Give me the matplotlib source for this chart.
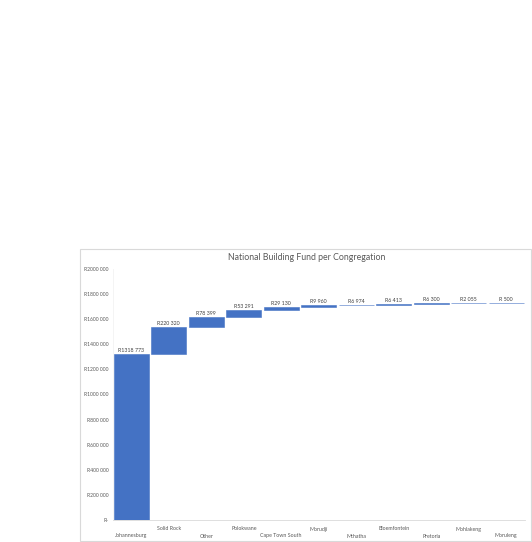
import matplotlib
matplotlib.use("Agg")
import matplotlib.pyplot as plt
from matplotlib.patches import Rectangle

plt.rcParams['font.family'] = ['Lato', 'DejaVu Sans']

congregations = ["Johannesburg", "Solid Rock", "Other", "Polokwane", "Cape Town South",
                 "Morudji", "Mthatha", "Bloemfontein", "Pretoria", "Mohlakeng", "Moruleng"]
amounts = [1318773, 220320, 78399, 53291, 29130, 9960, 6974, 6413, 6300, 2055, 500]
y_ticks = [0, 200000, 400000, 600000, 800000, 1000000, 1200000, 1400000,
           1600000, 1800000, 2000000]
title = "National Building Fund per Congregation"


def rand_fmt(v):
    v = int(round(v))
    if v == 0:
        return "R-"
    thousands, rest = divmod(v, 1000)
    return f"R{thousands} {rest:03d}" if thousands > 0 else f"R {rest}"


W, H = 532, 542
fig = plt.figure(figsize=(W / 100, H / 100), dpi=100)
# chart border
fig.patches.append(Rectangle((80 / W, 1 - 541 / H), (531 - 80) / W, (541 - 249) / H,
                             transform=fig.transFigure, fill=False,
                             edgecolor="#D9D9D9", linewidth=0.8))

ax = fig.add_axes([112.5 / W, 1 - 520 / H, (525 - 112.5) / W, (520 - 269) / H])

bottoms = []
running = 0
for v in amounts:
    bottoms.append(running)
    running += v

x = list(range(len(congregations)))
ax.bar(x, amounts, bottom=bottoms, width=0.94, color="#4472C4", edgecolor="#4472C4",
       linewidth=0.4)
for xi, b, v in zip(x, bottoms, amounts):
    ax.text(xi, b + v + 8000, rand_fmt(v), ha="center", va="bottom",
            fontsize=3.8, color="#404040")

ax.set_xlim(-0.5, len(congregations) - 0.5)
ax.set_ylim(0, 2000000)
ax.set_yticks(y_ticks)
ax.set_yticklabels([rand_fmt(t) for t in y_ticks], fontsize=3.6, color="#595959")
ax.tick_params(axis="y", length=0, pad=2.8)
ax.set_xticks(x)
ax.set_xticklabels([])
ax.tick_params(axis="x", length=0)
for xi, name in zip(x, congregations):
    off = 9 if xi % 2 == 1 else 16
    ax.annotate(name, xy=(xi, 0), xycoords=("data", "data"),
                xytext=(0, -off), textcoords="offset pixels",
                ha="center", va="center", fontsize=3.8, color="#595959")

for s in ["top", "right"]:
    ax.spines[s].set_visible(False)
ax.spines["left"].set_color("#F2F2F2")
ax.spines["left"].set_linewidth(0.6)
ax.spines["bottom"].set_color("#D9D9D9")
ax.spines["bottom"].set_linewidth(0.6)

fig.text(307 / W, 1 - 258 / H, title, ha="center", va="center",
         fontsize=6.3, color="#595959")

fig.savefig("out.png", dpi=100)
